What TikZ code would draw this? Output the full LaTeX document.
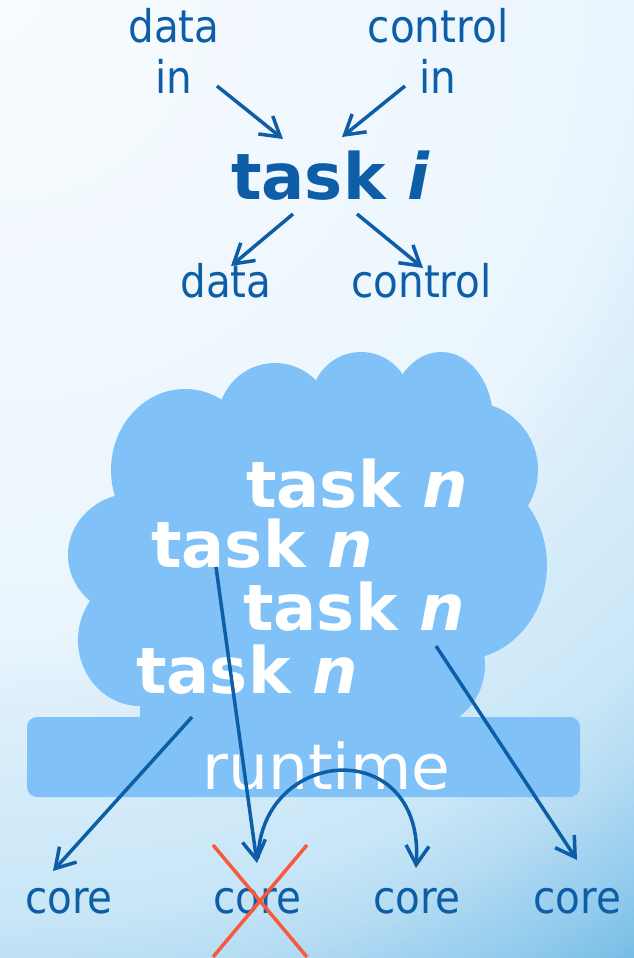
\documentclass[tikz,border=0pt]{standalone}
\usepackage{fontspec}
\setmainfont{DejaVu Sans}
\newfontfamily\narrowfont{DejaVu Sans}[FakeStretch=0.9]
\usetikzlibrary{arrows.meta,calc}

\definecolor{inkblue}{HTML}{0D5EA6}
\definecolor{cloudblue}{HTML}{80C2F7}
\definecolor{crossred}{HTML}{F55A3C}

% colour stops of the background glow, by distance from the top-left corner
\definecolor{g0}{HTML}{F8FCFF}
\definecolor{g1}{HTML}{EAF5FD}
\definecolor{g2}{HTML}{DDEFFB}
\definecolor{g3}{HTML}{C8E6F7}
\definecolor{g4}{HTML}{B5DCF3}
\definecolor{g5}{HTML}{8CC8EC}
\definecolor{g6}{HTML}{78BDE6}
\definecolor{g7}{HTML}{68B3E0}

\begin{document}
\begin{tikzpicture}[x=1pt,y=-1pt,
  label/.style={font=\narrowfont\fontsize{45}{50}\selectfont, text=inkblue, inner sep=0pt, anchor=base},
  tasklbl/.style={font=\bfseries\fontsize{64}{70}\selectfont, inner sep=0pt, anchor=base west},
  flow/.style={draw=inkblue, line width=3.5pt, -{Straight Barb[length=19pt,width=23pt]}},
  cross/.style={draw=crossred, line width=3.5pt}]

\useasboundingbox (0,0) rectangle (634,958);

% background: concentric rings around the top-left corner
\begin{scope}
  \clip (0,0) rectangle (634,958);
  \foreach \ra/\rb/\ca/\cb in {1150/1250/g6/g7, 1101/1150/g5/g6, 993/1101/g4/g5,
                              920/993/g3/g4, 715/920/g2/g3, 634/715/g1/g2, 0/634/g0/g1} {
    \pgfmathtruncatemacro\nsteps{max(2,(\rb-\ra)/6)}
    \pgfmathsetmacro\dr{(\rb-\ra)/\nsteps}
    \foreach \i in {0,...,\nsteps} {
      \pgfmathsetmacro\rr{\rb-\dr*\i}
      \pgfmathtruncatemacro\pp{100*\i/\nsteps}
      \fill[\ca!\pp!\cb] (0,0) circle[radius=\rr];
    }
  }
\end{scope}

% cloud of waiting tasks
\begin{scope}[fill=cloudblue]
  \fill (185,470) ellipse [x radius=74, y radius=81];
  \fill (275,420) circle [radius=57];
  \fill (361,402) circle [radius=50];
  \fill (441,420) ellipse [x radius=52, y radius=68];
  \fill (470,470) circle [radius=68];
  \fill (460,565) ellipse [x radius=87, y radius=95];
  \fill (420,665) circle [radius=65];
  \fill (140,640) ellipse [x radius=62, y radius=66];
  \fill (135,555) ellipse [x radius=67, y radius=62];
  \fill (185,470) -- (275,420) -- (361,402) -- (441,420) -- (470,470)
        -- (460,565) -- (420,665) -- (440,717) -- (140,717) -- (140,640)
        -- (135,555) -- cycle;
\end{scope}

% runtime bar
\node[fill=cloudblue, rounded corners=10pt, minimum width=553pt,
      minimum height=80pt, inner sep=0pt] (bar) at (303.5,757) {};
\node[font=\fontsize{63}{70}\selectfont, text=white, inner sep=0pt, anchor=base]
      (rt) at (326.5,789) {runtime};

% task with its inputs and outputs
\node[label] (dinA) at (174,43) {data};
\node[label] (dinB) at (174,93) {in};
\node[label] (cinA) at (438,43) {control};
\node[label] (cinB) at (438,93) {in};
\node[tasklbl, text=inkblue] (task) at (231,199) {task \textit{i}};
\node[label] (dout) at (226,297) {data};
\node[label] (cout) at (421.5,297) {control};

% queued tasks
\node[tasklbl, text=white] (tn1) at (246,507) {task \textit{n}};
\node[tasklbl, text=white] (tn2) at (151,567) {task \textit{n}};
\node[tasklbl, text=white] (tn3) at (243,630) {task \textit{n}};
\node[tasklbl, text=white] (tn4) at (136,693) {task \textit{n}};

% cores
\node[label] (c1) at (69,913) {core};
\node[label] (c2) at (257.5,913) {core};
\node[label] (c3) at (417,913) {core};
\node[label] (c4) at (577,913) {core};

% dependencies of task i
\draw[flow] ([shift={(43,-7)}]dinB.base) -- ([shift={(52,-60)}]task.base west);
\draw[flow] ([shift={(-33,-7)}]cinB.base) -- ([shift={(111,-62)}]task.base west);
\draw[flow] ([shift={(62,15)}]task.base west) -- ([shift={(5,-31)}]dout.base);
\draw[flow] ([shift={(126,15)}]task.base west) -- ([shift={(1.5,-29)}]cout.base);

% scheduling onto cores
\draw[flow] ([shift={(56,24)}]tn4.base west) -- ([shift={(-16,-42)}]c1.base);
\draw[flow] ([shift={(65,0)}]tn2.base west) -- ([shift={(-0.5,-50)}]c2.base);
\draw[flow] ([shift={(193,16)}]tn3.base west) -- ([shift={(0,-53)}]c4.base);
\draw[flow] ([shift={(0.5,-55)}]c2.base)
   .. controls ([shift={(4.5,-168)}]c2.base) and ([shift={(8,-178)}]c3.base)
   .. ([shift={(-1,-45)}]c3.base);

% failed core
\draw[cross] ([shift={(-44.5,-68)}]c2.base) -- ([shift={(49.5,44)}]c2.base);
\draw[cross] ([shift={(49.5,-68)}]c2.base) -- ([shift={(-44.5,44)}]c2.base);

\end{tikzpicture}
\end{document}
